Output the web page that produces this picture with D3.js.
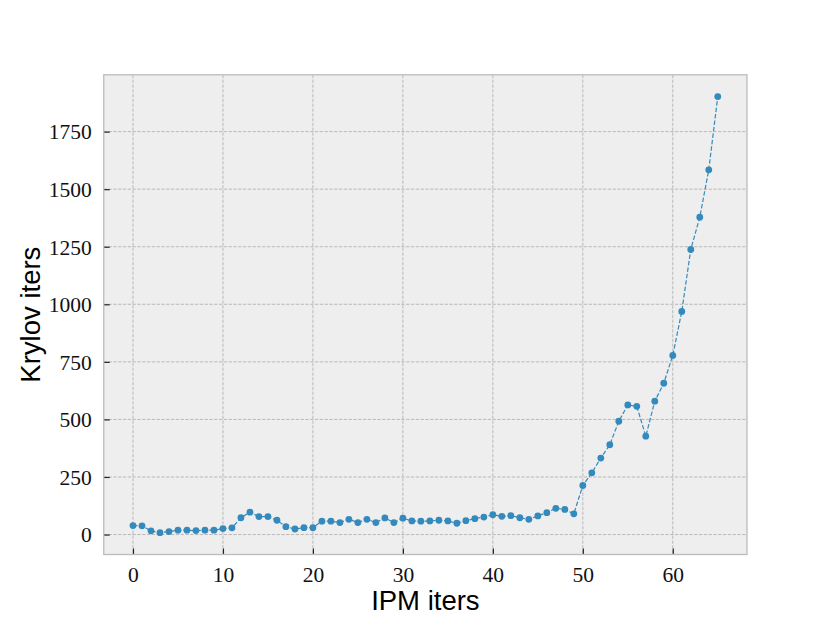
<!DOCTYPE html>
<html>
<head>
<meta charset="utf-8">
<script src="https://cdn.jsdelivr.net/npm/d3@7"></script>
<style>
  html, body { margin: 0; padding: 0; background: #ffffff; }
  svg { display: block; }
</style>
</head>
<body>
<svg id="chart" width="830" height="623"></svg>
<script>
// ---- data ----
const ipmIters = [0,1,2,3,4,5,6,7,8,9,10,11,12,13,14,15,16,17,18,19,20,21,22,23,24,25,26,27,28,29,30,31,32,33,34,35,36,37,38,39,40,41,42,43,44,45,46,47,48,49,50,51,52,53,54,55,56,57,58,59,60,61,62,63,64,65];
const krylovIters = [39,38,16,8,13,19,19,17,19,19,26,29,73,97,78,78,62,34,24,30,30,58,58,52,66,52,66,52,72,52,71,59,58,59,62,59,49,60,69,76,86,79,82,73,66,81,95,114,109,90,213,268,332,390,492,563,557,427,579,657,778,969,1238,1378,1584,1902];
const xTicks = [0,10,20,30,40,50,60];
const yTicks = [0,250,500,750,1000,1250,1500,1750];
const xLabel = "IPM iters";
const yLabel = "Krylov iters";

// ---- layout ----
const W = 830, H = 623;
const L = 103.75, R = 747, T = 74.8, B = 554.5;

const svg = d3.select("#chart");

function padded(ext) {
  const d = ext[1] - ext[0];
  return [ext[0] - 0.05 * d, ext[1] + 0.05 * d];
}

const x = d3.scaleLinear().domain(padded(d3.extent(ipmIters))).range([L, R]);
const y = d3.scaleLinear().domain(padded(d3.extent(krylovIters))).range([B, T]);

// background
svg.append("rect").attr("x", L).attr("y", T).attr("width", R - L).attr("height", B - T)
  .attr("fill", "#eeeeee");

// grid
const grid = svg.append("g");
grid.selectAll(".gx").data(xTicks).enter().append("line")
  .attr("x1", d => x(d)).attr("x2", d => x(d)).attr("y1", T).attr("y2", B)
  .attr("stroke", "#b2b2b2").attr("stroke-width", 0.9).attr("stroke-dasharray", "3.3,1.5");
grid.selectAll(".gy").data(yTicks).enter().append("line")
  .attr("x1", L).attr("x2", R).attr("y1", d => y(d)).attr("y2", d => y(d))
  .attr("stroke", "#b2b2b2").attr("stroke-width", 0.9).attr("stroke-dasharray", "3.3,1.5");

// axes (ticks inward)
const xAxis = d3.axisBottom(x).tickValues(xTicks).tickSizeInner(-6).tickSizeOuter(0).tickPadding(12).tickFormat(d3.format("d"));
const yAxis = d3.axisLeft(y).tickValues(yTicks).tickSizeInner(-6).tickSizeOuter(0).tickPadding(12).tickFormat(d3.format("d"));

const gx = svg.append("g").attr("transform", `translate(0,${B})`).call(xAxis);
const gy = svg.append("g").attr("transform", `translate(${L},0)`).call(yAxis);
[gx, gy].forEach(g => {
  g.select(".domain").remove();
  g.selectAll(".tick line").attr("stroke", "#222").attr("stroke-width", 1.2);
  g.selectAll(".tick text").attr("fill", "#111")
    .style("font-family", "'Liberation Serif', 'DejaVu Serif', serif")
    .style("font-size", "21.5px");
});
gy.selectAll(".tick text").attr("dy", "0.34em");
gx.selectAll(".tick text").attr("dy", "0.72em");

// frame
svg.append("rect").attr("x", L).attr("y", T).attr("width", R - L).attr("height", B - T)
  .attr("fill", "none").attr("stroke", "#bcbcbc").attr("stroke-width", 1.3);

// line
const line = d3.line().x((d, i) => x(ipmIters[i])).y(d => y(d));
svg.append("path").datum(krylovIters)
  .attr("d", line).attr("fill", "none")
  .attr("stroke", "#348ABD").attr("stroke-width", 1.2).attr("stroke-dasharray", "4.5,2");

svg.append("g").selectAll("circle").data(krylovIters).enter().append("circle")
  .attr("cx", (d, i) => x(ipmIters[i])).attr("cy", d => y(d)).attr("r", 3.4)
  .attr("fill", "#348ABD");

// labels
svg.append("text").attr("x", (L + R) / 2).attr("y", 610).attr("text-anchor", "middle")
  .style("font-family", "'Liberation Sans', Arial, sans-serif").style("font-size", "27.5px")
  .attr("fill", "#000").text(xLabel);
svg.append("text").attr("transform", `translate(40,${(T + B) / 2}) rotate(-90)`)
  .attr("text-anchor", "middle")
  .style("font-family", "'Liberation Sans', Arial, sans-serif").style("font-size", "27.5px")
  .attr("fill", "#000").text(yLabel);
</script>
</body>
</html>
